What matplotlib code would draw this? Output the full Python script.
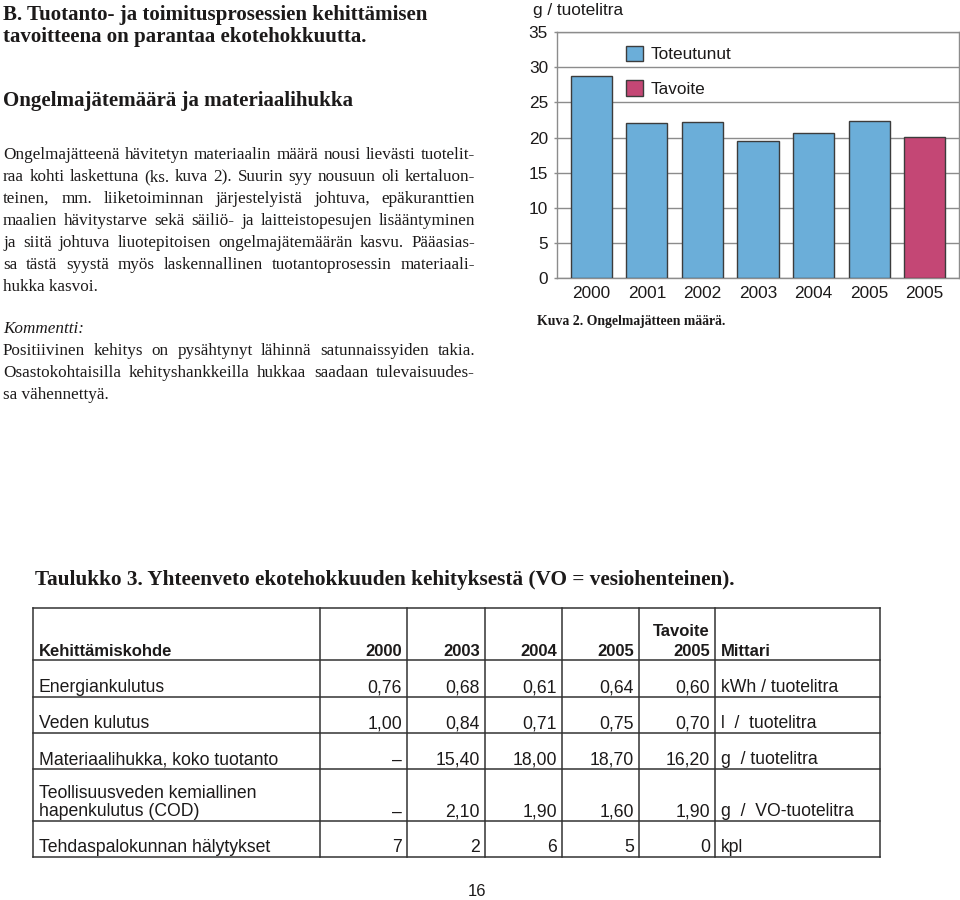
import matplotlib
matplotlib.use('Agg')
import matplotlib.pyplot as plt
from matplotlib.patches import Patch
import numpy as np

# ---------------- data ----------------
bar_labels = ['2000', '2001', '2002', '2003', '2004', '2005', '2005']
bar_values = [28.7, 22.0, 22.2, 19.5, 20.6, 22.4, 20.1]
bar_kind = ['Toteutunut'] * 6 + ['Tavoite']
y_ticks = [0, 5, 10, 15, 20, 25, 30, 35]
legend_labels = ['Toteutunut', 'Tavoite']
y_unit = 'g / tuotelitra'
chart_caption = 'Kuva 2. Ongelmajätteen määrä.'

title_lines = ['B. Tuotanto- ja toimitusprosessien kehittämisen',
               'tavoitteena on parantaa ekotehokkuutta.']
heading = 'Ongelmajätemäärä ja materiaalihukka'
para1 = ['Ongelmajätteenä hävitetyn materiaalin määrä nousi lievästi tuotelit-',
         'raa kohti laskettuna (ks. kuva 2). Suurin syy nousuun oli kertaluon-',
         'teinen, mm. liiketoiminnan järjestelyistä johtuva, epäkuranttien',
         'maalien hävitystarve sekä säiliö- ja laitteistopesujen lisääntyminen',
         'ja siitä johtuva liuotepitoisen ongelmajätemäärän kasvu. Pääasias-',
         'sa tästä syystä myös laskennallinen tuotantoprosessin materiaali-',
         'hukka kasvoi.']
comment_label = 'Kommentti:'
para2 = ['Positiivinen kehitys on pysähtynyt lähinnä satunnaissyiden takia.',
         'Osastokohtaisilla kehityshankkeilla hukkaa saadaan tulevaisuudes-',
         'sa vähennettyä.']

table_title = 'Taulukko 3. Yhteenveto ekotehokkuuden kehityksestä (VO = vesiohenteinen).'
table_header = ['Kehittämiskohde', '2000', '2003', '2004', '2005', 'Tavoite\n2005', 'Mittari']
table_rows = ['Energiankulutus', 'Veden kulutus', 'Materiaalihukka, koko tuotanto',
              'Teollisuusveden kemiallinen\nhapenkulutus (COD)', 'Tehdaspalokunnan hälytykset']
col_2000 = ['0,76', '1,00', '–', '–', '7']
col_2003 = ['0,68', '0,84', '15,40', '2,10', '2']
col_2004 = ['0,61', '0,71', '18,00', '1,90', '6']
col_2005 = ['0,64', '0,75', '18,70', '1,60', '5']
col_target = ['0,60', '0,70', '16,20', '1,90', '0']
col_unit = ['kWh / tuotelitra', 'l  /  tuotelitra', 'g  / tuotelitra', 'g  /  VO-tuotelitra', 'kpl']
page_number = '16'

# ---------------- style ----------------
INK = '#1c1a1a'
BLUE = '#6baed9'
PINK = '#c44775'
EDGE = '#3c3c3c'
GRID = '#8c8c8c'
SERIF = 'Liberation Serif'
SANS = 'Liberation Sans'

fig = plt.figure(figsize=(9.6, 9.0), dpi=100)
page = fig.add_axes([0, 0, 1, 1])
page.set_xlim(0, 960)
page.set_ylim(900, 0)
page.axis('off')
renderer = fig.canvas.get_renderer()


def text_width(s, **kw):
    t = page.text(0, 0, s, **kw)
    w = t.get_window_extent(renderer).width
    t.remove()
    return w


def fit_size(s, target, **kw):
    return 10.0 * target / text_width(s, fontsize=10, **kw)


def put_line(s, x0, y, size, x1=None, **kw):
    words = s.split(' ')
    if x1 is None or len(words) == 1:
        page.text(x0, y, s, fontsize=size, va='baseline', ha='left', color=INK, **kw)
        return
    widths = [text_width(w, fontsize=size, **kw) for w in words]
    gap = (x1 - x0 - sum(widths)) / (len(words) - 1)
    x = x0
    for w, wd in zip(words, widths):
        page.text(x, y, w, fontsize=size, va='baseline', ha='left', color=INK, **kw)
        x += wd + gap


# ---------------- left column text ----------------
LX, RX = 3, 475
ts = fit_size(title_lines[0], 427, family=SERIF, weight='bold')
put_line(title_lines[0], LX, 20, ts, family=SERIF, weight='bold')
put_line(title_lines[1], LX, 42, ts, family=SERIF, weight='bold')
put_line(heading, LX, 106, ts, family=SERIF, weight='bold')

just = para1[:-1] + para2[:-1]
bs = min(fit_size(l, (RX - LX) * 0.99, family=SERIF) for l in just)
y0 = 159
for i, line in enumerate(para1):
    put_line(line, LX, y0 + 22 * i, bs, None if i == len(para1) - 1 else RX, family=SERIF)
put_line(comment_label, LX, 333, bs, family=SERIF, style='italic')
for i, line in enumerate(para2):
    put_line(line, LX, 355 + 22 * i, bs, None if i == len(para2) - 1 else RX, family=SERIF)

# ---------------- chart ----------------
ax = fig.add_axes([557 / 960, 1 - 278.3 / 900, 402 / 960, 246.3 / 900])
xpos = np.arange(len(bar_values))
colors = [BLUE if k == 'Toteutunut' else PINK for k in bar_kind]
ax.bar(xpos, bar_values, width=0.74, color=colors, edgecolor=EDGE, linewidth=1.0, zorder=3)
ax.set_xlim(-0.62, len(bar_values) - 1 + 0.62)
ax.set_ylim(0, 35)
ax.set_yticks(y_ticks)
ax.set_yticklabels([str(v) for v in y_ticks])
ax.yaxis.grid(True, color=GRID, linewidth=1.0)
ax.set_axisbelow(True)
ax.set_xticks(xpos)
ax.set_xticklabels(bar_labels)
for lab in ax.get_xticklabels() + ax.get_yticklabels():
    lab.set_fontfamily(SANS)
    lab.set_color(INK)
ax.tick_params(axis='x', length=0, pad=5.5, labelsize=12.4)
ax.tick_params(axis='y', length=2, width=1, color=GRID, pad=4.5, labelsize=12.4)
for sp in ax.spines.values():
    sp.set_color(GRID)
    sp.set_linewidth(1.0)
handles = [Patch(facecolor=BLUE, edgecolor=EDGE, linewidth=1.0),
           Patch(facecolor=PINK, edgecolor=EDGE, linewidth=1.0)]
leg = ax.legend(handles, legend_labels, loc='upper left',
                bbox_to_anchor=((626 - 557) / 402, (278.3 - 45.5) / 246.3),
                frameon=False, borderpad=0, borderaxespad=0,
                handlelength=1.0, handleheight=1.0, handletextpad=0.45,
                labelspacing=1.05, prop={'family': SANS, 'size': 12.4})
for t in leg.get_texts():
    t.set_color(INK)

page.text(533, 15, y_unit, fontsize=12.4, family=SANS, color=INK, va='baseline', ha='left')
cs = fit_size(chart_caption, 190, family=SERIF, weight='bold')
put_line(chart_caption, 537, 325, cs, family=SERIF, weight='bold')

# ---------------- table ----------------
tts = fit_size(table_title, 703, family=SERIF, weight='bold')
put_line(table_title, 35, 585, tts, family=SERIF, weight='bold')

col_edges = [33, 320, 407, 485, 562, 639, 715, 880]
row_edges = [608, 660, 697, 733, 769, 821, 857]
LW = 1.1
for yv in row_edges:
    page.plot([col_edges[0], col_edges[-1]], [yv, yv], color='#333333', lw=LW, solid_capstyle='projecting')
for xv in col_edges:
    page.plot([xv, xv], [row_edges[0], row_edges[-1]], color='#333333', lw=LW, solid_capstyle='projecting')

TS = 12.7
HS = 12.0
LH = 19


def cell(text, col, bottom, bold=False):
    size = HS if bold else TS
    lines = text.split('\n')
    for k, ln in enumerate(reversed(lines)):
        y = bottom - 4.5 - LH * k
        if col == 0 or col == len(col_edges) - 2:
            page.text(col_edges[col] + 6, y, ln, fontsize=size, family=SANS, color=INK,
                      weight='bold' if bold else 'normal', ha='left', va='baseline')
        else:
            page.text(col_edges[col + 1] - 5, y, ln, fontsize=size, family=SANS, color=INK,
                      weight='bold' if bold else 'normal', ha='right', va='baseline')


for c, h in enumerate(table_header):
    cell(h, c, row_edges[1], bold=True)
columns = [table_rows, col_2000, col_2003, col_2004, col_2005, col_target, col_unit]
for r in range(len(table_rows)):
    for c, col in enumerate(columns):
        cell(col[r], c, row_edges[r + 2])

page.text(477, 896, page_number, fontsize=12, family=SANS, color=INK, ha='center', va='baseline')

fig.savefig('out.png', dpi=100)
